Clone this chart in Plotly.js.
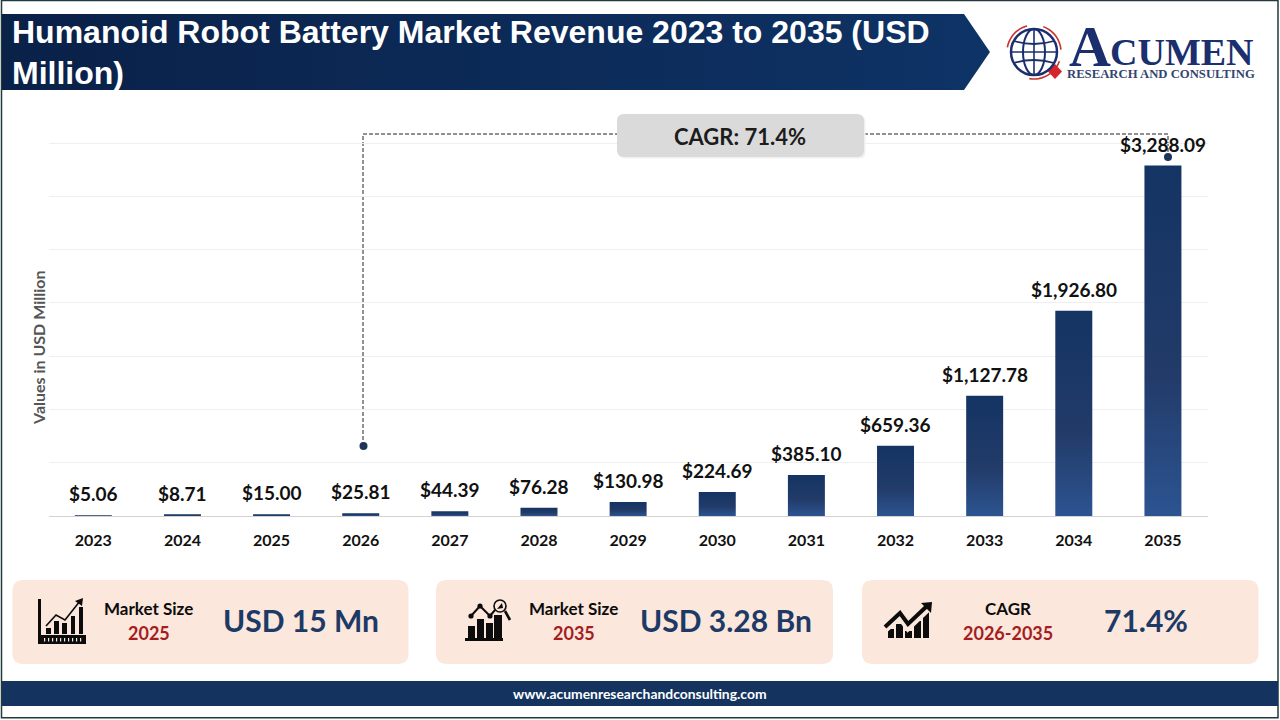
<!DOCTYPE html>
<html>
<head>
<meta charset="utf-8">
<script src="https://cdn.plot.ly/plotly-3.0.1.min.js"></script>
<style>html,body{margin:0;padding:0;background:#fff;overflow:hidden}#chart{width:1280px;height:720px}</style>
</head>
<body>
<div id="chart"></div>
<script>
const years = ['2023','2024','2025','2026','2027','2028','2029','2030','2031','2032','2033','2034','2035'];
const revenue = [5.06,8.71,15.00,25.81,44.39,76.28,130.98,224.69,385.10,659.36,1127.78,1926.80,3288.09];
const yTicks = [0,500,1000,1500,2000,2500,3000,3500];
const chartTitle = 'Humanoid Robot Battery Market Revenue 2023 to 2035 (USD<br>Million)';
const yTitle = 'Values in USD Million';
const cagrLabel = 'CAGR: 71.4%';
const cardHeads = ['Market Size','Market Size','CAGR'];
const cardYears = ['2025','2035','2026-2035'];
const cardValues = ['USD 15 Mn','USD 3.28 Bn','71.4%'];
const website = 'www.acumenresearchandconsulting.com';

const NAVY='#14345f', CARD='#fbe7dc', UI='Lato, "Open Sans", sans-serif';
const X=x=>x/1280, Y=y=>1-y/720;
const path=s=>s.replace(/(-?[\d.]+)[ ,](-?[\d.]+)/g,(m,a,b)=>X(+a)+','+Y(+b));
const shapes=[];
const add=o=>shapes.push(Object.assign({xref:'paper',yref:'paper',layer:'below'},o));
const rect=(x0,y0,x1,y1,fill,line)=>add({type:'rect',x0:X(x0),x1:X(x1),y0:Y(y0),y1:Y(y1),fillcolor:fill,line:line||{width:0}});
const round=(x0,y0,x1,y1,r,fill,layer)=>add({type:'path',layer:layer||'below',path:path(`M ${x0+r} ${y0} L ${x1-r} ${y0} Q ${x1} ${y0} ${x1} ${y0+r} L ${x1} ${y1-r} Q ${x1} ${y1} ${x1-r} ${y1} L ${x0+r} ${y1} Q ${x0} ${y1} ${x0} ${y1-r} L ${x0} ${y0+r} Q ${x0} ${y0} ${x0+r} ${y0} Z`),fillcolor:fill,line:{width:0}});
const poly=(s,fill)=>add({type:'path',path:path(s),fillcolor:fill,line:{width:0}});
const stroke=(s,color,w,dash)=>add({type:'path',path:path(s),line:{color:color,width:w,dash:dash||'solid'}});
const ell=(cx,cy,rx,ry,fill,line)=>add({type:'circle',x0:X(cx-rx),x1:X(cx+rx),y0:Y(cy-ry),y1:Y(cy+ry),fillcolor:fill,line:line||{width:0}});
const arc=(cx,cy,r,a0,a1)=>{let s='';for(let i=0;i<=12;i++){const a=(a0+(a1-a0)*i/12)*Math.PI/180;s+=(i?'L ':'M ')+(cx+r*Math.cos(a)).toFixed(2)+' '+(cy-r*Math.sin(a)).toFixed(2)+' ';}return s;};

// frame, banner, footer
rect(1.5,0.5,1278,717.8,'rgba(0,0,0,0)',{color:'#233a3c',width:1.5});
poly('M 2 14 L 964 14 L 990 52 L 964 90 L 2 90 Z','#0d2c5c');
rect(2,681,1278,706,NAVY);

// logo
const LOGO='#1b2f6e', RED='#c8322c';
[[170,105],[70,5],[-20,-100]].forEach(a=>stroke(arc(1034,52,27,a[0],a[1]),RED,1.6));
poly('M 1055 64 L 1062 71.5 L 1055 79 L 1048 71.5 Z','#d6252a');
ell(1034,52,23,23,'#ffffff',{color:LOGO,width:2.5});
ell(1034,52,11,23,'rgba(0,0,0,0)',{color:LOGO,width:2});
stroke('M 1034 29 L 1034 75',LOGO,1.6);
stroke('M 1014 41 Q 1034 47 1054 41',LOGO,1.8);
stroke('M 1014 63 Q 1034 57 1054 63',LOGO,1.8);
stroke('M 1011 52 L 1057 52',LOGO,1.6);

// connector and CAGR box
const DASH='4px,2px';
stroke('M 363 446 L 363 134 L 617 134','#222222',1,DASH);
stroke('M 864 134 L 1168 134 L 1168 157','#222222',1,DASH);
ell(363.5,446,4,4,'#1d3557');
ell(1168,157,4,4,'#1d3557');
round(618.5,115.5,865.5,158.5,7,'#f0f0f0','above');
round(617,114,864,157,7,'#dadada','above');

// cards
[[12.5,408.5],[436,833],[862,1258.5]].forEach(c=>round(c[0],580,c[1],664,11,CARD));

// icon 1
const K='#0c0c0c';
rect(38,599,41,644,K); rect(38,635,86,644,K);
for(let x=44;x<=80;x+=4) rect(x,638,x+1.2,641.5,CARD);
[[46,51,628],[54,59,621],[62,67,623],[71,75,616],[79,83,607]].forEach(b=>rect(b[0],b[2],b[1],634,K));
stroke('M 46 626 L 56 615 L 65 620 L 80 601',K,1.6);
poly('M 75 601 L 83 598 L 82 606 Z',K);

// icon 2
rect(465,638,503,641,K);
[[468,475,626],[477,484,619],[486,493,623],[494,502,615]].forEach(b=>rect(b[0],b[2],b[1],639,K));
stroke('M 471 616 L 480 606 L 490 616 L 495 610',K,2);
ell(471,616,2.6,2.6,K); ell(480,606,2.6,2.6,K); ell(490,616,2.6,2.6,K);
ell(500,606,6,6,CARD,{color:K,width:1.6});
poly('M 497 609 L 502 603 L 503 608 Z',K);
stroke('M 505 611 L 510 620',K,2.6);

// icon 3
[[888,894,629],[896,903,624],[905,912,631],[914,921,621],[923,929,611]].forEach(b=>rect(b[0],b[2],b[1],638,K));
stroke('M 884 630 L 900 616 L 908 627 L 928 608',CARD,7.5);
stroke('M 885 627 L 900 613 L 908 624 L 927 606',K,4);
poly('M 921 603 L 932 602 L 931 613 Z',K);

// annotations
const ann=[];
const note=(t,x,y,size,color,o)=>ann.push(Object.assign({xref:'paper',yref:'paper',x:X(x),y:Y(y),text:t,showarrow:false,xanchor:'center',yanchor:'middle',font:{family:UI,size:size,color:color,weight:700}},o||{}));
revenue.forEach((v,i)=>ann.push({xref:'x',yref:'y',x:i,y:v,yshift:21.5,yanchor:'middle',xanchor:'center',showarrow:false,
  text:'$'+v.toLocaleString('en-US',{minimumFractionDigits:2,maximumFractionDigits:2}),
  font:{family:UI,size:19,color:'#111111',weight:700}}));
note(yTitle,38.5,348.5,16,'#555555',{textangle:-90});
note(cagrLabel,740,136,22,'#1c1c1c');
const cx1=[148.5,573.5,1007.5], cx2=[301,726,1145.5];
cardHeads.forEach((t,i)=>{
  note(t,cx1[i],608.5,17,'#0c0c0c');
  note(cardYears[i],cx1[i],633,18,'#a51d1f');
  note(cardValues[i],cx2[i],620,30,'#1d3a66');
});
note(website,640,693,13.9,'#ffffff');
const SERIF='"Liberation Serif", serif';
note('A',1090,46,58,LOGO,{font:{family:SERIF,size:58,color:LOGO,weight:700}});
note('CUMEN',1181.5,52,38,LOGO,{font:{family:SERIF,size:38,color:LOGO,weight:700}});
note('RESEARCH AND CONSULTING',1160.5,74,12.7,'#34466f',{font:{family:SERIF,size:12.7,color:'#34466f',weight:700}});

const data=[{type:'bar',x:years,y:revenue,width:0.415,marker:{color:'#1f3a6b',line:{width:0}},hoverinfo:'x+y',name:'Revenue'}];
const layout={
  width:1280,height:720,margin:{l:0,r:0,t:0,b:0,pad:0},paper_bgcolor:'#ffffff',plot_bgcolor:'rgba(0,0,0,0)',showlegend:false,
  title:{text:chartTitle,xref:'container',yref:'container',x:X(12),y:Y(42.5),xanchor:'left',yanchor:'middle',font:{family:'"Liberation Sans", Arial, sans-serif',size:32,color:'#ffffff',weight:700}},
  xaxis:{domain:[X(48.75),X(1207.5)],type:'category',categoryorder:'array',categoryarray:years,range:[-0.5,12.5],showgrid:false,zeroline:false,showline:true,linecolor:'#d2d2d2',linewidth:1,
    ticks:'outside',ticklen:10,tickcolor:'rgba(0,0,0,0)',tickfont:{family:UI,size:16,color:'#111111',weight:700},fixedrange:true},
  yaxis:{domain:[Y(516),Y(132.34)],range:[0,3600],tickvals:yTicks,showticklabels:false,ticks:'',gridcolor:'#efefef',gridwidth:1,zeroline:false,showline:false,fixedrange:true},
  shapes:shapes,annotations:ann
};
Plotly.newPlot('chart',data,layout,{displayModeBar:false,responsive:false}).then(gd=>{
  const svg=gd.querySelector('svg.main-svg'), NS='http://www.w3.org/2000/svg';
  const grad=(id,x2,y2,stops)=>{const g=document.createElementNS(NS,'linearGradient');g.setAttribute('id',id);g.setAttribute('x1','0');g.setAttribute('y1','0');g.setAttribute('x2',x2);g.setAttribute('y2',y2);
    stops.forEach(s=>{const e=document.createElementNS(NS,'stop');e.setAttribute('offset',s[0]);e.setAttribute('stop-color',s[1]);g.appendChild(e);});return g;};
  const defs=document.createElementNS(NS,'defs');
  defs.appendChild(grad('barGrad','0','1',[[0,'#143463'],[0.6,'#223b69'],[1,'#2c5491']]));
  defs.appendChild(grad('bannerGrad','1','0',[[0,'#0a2148'],[1,'#0e3366']]));
  svg.insertBefore(defs,svg.firstChild);
  gd.querySelectorAll('.bars .point path').forEach(p=>p.style.fill='url(#barGrad)');
  gd.querySelectorAll('.shapelayer path').forEach(p=>{if(p.style.fill==='rgb(13, 44, 92)')p.style.fill='url(#bannerGrad)';});
});
</script>
</body>
</html>
